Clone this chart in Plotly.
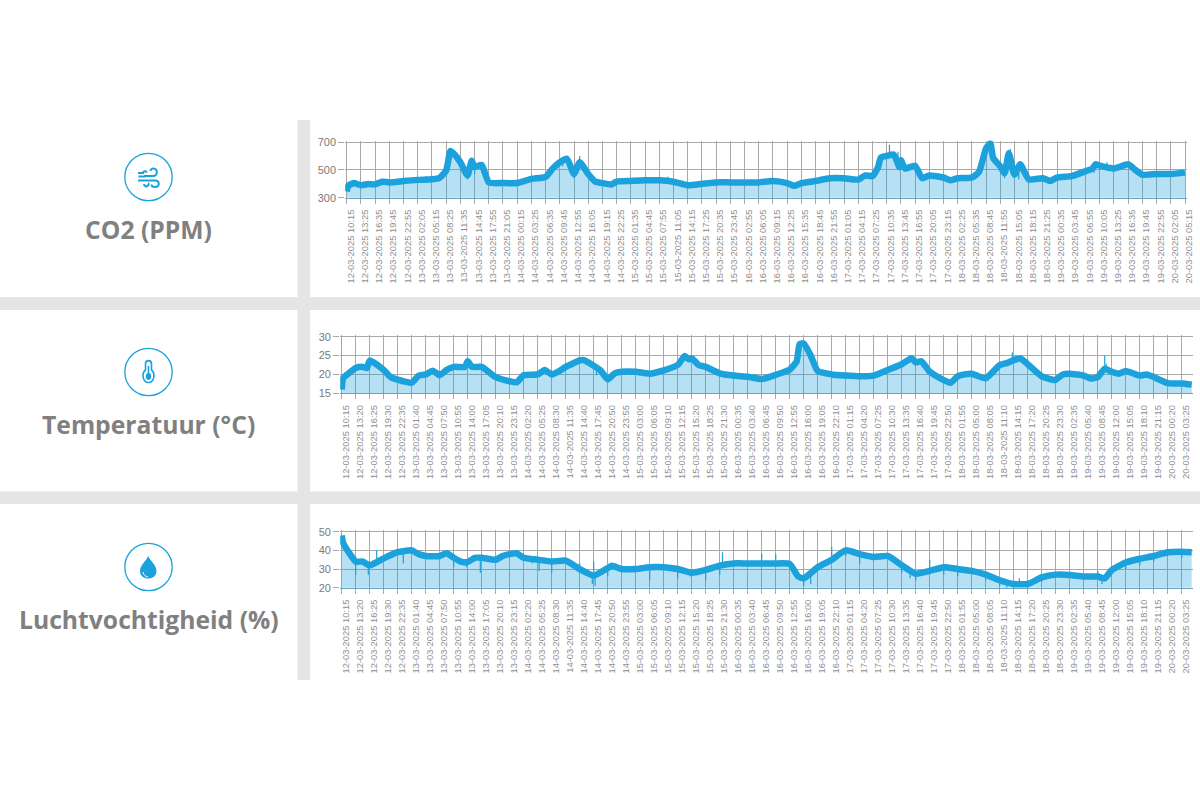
import re
import plotly.graph_objects as go

# ---------- tick labels ----------
co2_ticks = ["12-03-2025 10:15","12-03-2025 13:25","12-03-2025 16:35","12-03-2025 19:45","12-03-2025 22:55",
"13-03-2025 02:05","13-03-2025 05:15","13-03-2025 08:25","13-03-2025 11:35","13-03-2025 14:45","13-03-2025 17:55","13-03-2025 21:05",
"14-03-2025 00:15","14-03-2025 03:25","14-03-2025 06:35","14-03-2025 09:45","14-03-2025 12:55","14-03-2025 16:05","14-03-2025 19:15","14-03-2025 22:25",
"15-03-2025 01:35","15-03-2025 04:45","15-03-2025 07:55","15-03-2025 11:05","15-03-2025 14:15","15-03-2025 17:25","15-03-2025 20:35","15-03-2025 23:45",
"16-03-2025 02:55","16-03-2025 06:05","16-03-2025 09:15","16-03-2025 12:25","16-03-2025 15:35","16-03-2025 18:45","16-03-2025 21:55",
"17-03-2025 01:05","17-03-2025 04:15","17-03-2025 07:25","17-03-2025 10:35","17-03-2025 13:45","17-03-2025 16:55","17-03-2025 20:05","17-03-2025 23:15",
"18-03-2025 02:25","18-03-2025 05:35","18-03-2025 08:45","18-03-2025 11:55","18-03-2025 15:05","18-03-2025 18:15","18-03-2025 21:25",
"19-03-2025 00:35","19-03-2025 03:45","19-03-2025 06:55","19-03-2025 10:05","19-03-2025 13:25","19-03-2025 16:35","19-03-2025 19:45","19-03-2025 22:55",
"20-03-2025 02:05","20-03-2025 05:15"]

climate_ticks = ["12-03-2025 10:15","12-03-2025 13:20","12-03-2025 16:25","12-03-2025 19:30","12-03-2025 22:35",
"13-03-2025 01:40","13-03-2025 04:45","13-03-2025 07:50","13-03-2025 10:55","13-03-2025 14:00","13-03-2025 17:05","13-03-2025 20:10","13-03-2025 23:15",
"14-03-2025 02:20","14-03-2025 05:25","14-03-2025 08:30","14-03-2025 11:35","14-03-2025 14:40","14-03-2025 17:45","14-03-2025 20:50","14-03-2025 23:55",
"15-03-2025 03:00","15-03-2025 06:05","15-03-2025 09:10","15-03-2025 12:15","15-03-2025 15:20","15-03-2025 18:25","15-03-2025 21:30",
"16-03-2025 00:35","16-03-2025 03:40","16-03-2025 06:45","16-03-2025 09:50","16-03-2025 12:55","16-03-2025 16:00","16-03-2025 19:05","16-03-2025 22:10",
"17-03-2025 01:15","17-03-2025 04:20","17-03-2025 07:25","17-03-2025 10:30","17-03-2025 13:35","17-03-2025 16:40","17-03-2025 19:45","17-03-2025 22:50",
"18-03-2025 01:55","18-03-2025 05:00","18-03-2025 08:05","18-03-2025 11:10","18-03-2025 14:15","18-03-2025 17:20","18-03-2025 20:25","18-03-2025 23:30",
"19-03-2025 02:35","19-03-2025 05:40","19-03-2025 08:45","19-03-2025 12:00","19-03-2025 15:05","19-03-2025 18:10","19-03-2025 21:15",
"20-03-2025 00:20","20-03-2025 03:25"]

# ---------- series: position in tick-interval units, value ----------
co2_pos = [0,0.1,0.5,1,1.5,2,2.5,3,4,5,6,6.5,7,7.3,7.5,8,8.5,8.8,9,9.5,10,11,12,13,14,14.5,15,15.5,16,16.4,17,17.5,18,18.6,19,20,21,22,23,24,25,26,27,28,
 29,30,31,31.5,32,33,34,35,36,36.5,37,37.4,37.6,38,38.5,38.9,39,39.3,40,40.5,41,42,42.5,43,44,44.5,45,45.3,45.5,46,46.3,46.6,47,47.4,48,49,49.5,50,51,52,52.5,52.7,53,54,55,55.5,56,57,58,59]
co2_val = [345,385,405,390,398,396,415,410,420,428,432,440,495,635,620,555,460,565,520,535,410,405,405,435,450,510,555,580,470,555,470,415,405,395,415,420,425,425,415,390,400,410,410,410,
 410,420,405,385,405,420,440,440,430,460,455,520,590,600,610,520,570,510,530,440,460,445,425,440,445,485,655,690,585,525,475,620,465,540,432,440,420,445,455,490,510,540,530,510,540,500,465,470,470,480]
co2_sp_pos = [2.5,5.6,8.5,9.0,15.2,16.0,16.4,22.6,38.2,38.8,39.1,40.6,45.2,46.3,46.7,47.3,52.6,53.5,56.5,57.2]
co2_sp_base = [410,430,460,520,555,470,555,425,600,540,570,440,680,475,620,480,510,525,465,470]
co2_sp_tip = [435,455,430,470,525,440,600,450,680,630,500,420,720,440,650,430,480,555,445,450]

temp_pos = [0,0.1,0.4,1,1.5,1.8,2,3,3.5,4,5,5.5,6,6.5,7,7.5,8,8.8,9,9.3,10,11,12,12.5,13,14,14.5,15,15.5,16,17,17.3,18,18.5,19,19.5,20,21,22,23,24,24.5,24.8,25,25.5,26,27,28,29,
 30,31,32,32.5,32.7,33,33.5,34,35,36,37,38,39,40,40.7,41,41.4,42,43,43.5,44,44.5,45,46,47,47.5,48,48.5,49,50,50.9,51,51.5,52,53,53.5,54,54.5,55,55.5,56,57,57.5,58,59,60,60.71]
temp_val = [16,19,20,21.7,22,21.7,23.7,21.2,19.3,18.6,17.8,19.7,20,21,19.8,21.2,22,22,23.5,22,22,19.3,18.2,17.9,19.8,20,21.2,20,20.8,22,23.7,23.8,22.3,21,18.7,20.3,20.7,20.7,20.2,21.1,22.5,24.9,24,24.3,22.5,22,20.3,19.7,19.4,
 18.8,19.9,21.3,23.5,28,28.2,25,20.9,20,19.7,19.5,19.7,21.2,22.7,24.3,23.2,23.5,20.7,18.5,17.8,19.5,20,20.2,19,22.5,23,23.8,24.2,22.7,19.5,18.5,18.6,20,20.2,19.7,18.9,19.3,21.5,20.7,20.2,20.9,19.7,20,19.3,17.7,17.6,17.3]
temp_sp_pos = [18.2,47.9,54.5,54.6]
temp_sp_base = [22.3,24,21.5,21]
temp_sp_tip = [19.8,25.8,25,22.8]

hum_pos = [0,0.1,0.5,1,1.5,2,3,4,5,5.5,6,7,7.5,8,8.5,9,9.5,10,11,11.5,12,12.5,13,14,15,16,17,18,19,19.3,20,21,22,23,24,25,26,27,28,29,
 30,31,32,32.6,33,34,35,36,37,38,39,40,41,42,43,44,45,46,47,48,49,50,51,52,53,54,54.5,55,56,57,58,59,60,60.71]
hum_val = [48,44,39,34,34,32,35.7,39,40,38,37,37,38.5,36,34,33.8,36,36,35,37,38,38.5,36,35,34,34.5,30,26.5,30.5,31.8,30,30,31,31,30,28,29.5,31.8,33,33,
 33,33,32.7,26,25,31,35,40,38,36.5,37,32,27.5,29,31,30,29,27,24,22,22,25.5,27,26.8,26,26,25,29.5,33.5,35.5,37,39,39.3,39]
hum_sp_pos = [1,1.9,2.5,4.4,8,8.9,9.9,13.6,14.1,15,17,17.9,18,18.1,19,22,24,24.9,26,27,27.2,
 30,31,33,33.5,35,36,37,40,40.6,41,42,43,44,45,46,47,47.5,48,48.4,49,50,54,54.3,56,57,58,60]
hum_sp_base = [34,32,33,39,36,34,36,36,35,34,30,26.5,26.5,26.5,30.5,31,30,28.5,29.5,31.8,32,
 33,33,25,26,35,40,38,32,29,27.5,29,31,30,29,27,24,23,22,22,22,25.5,26,25.5,33.5,35.5,37,39.3]
hum_sp_tip = [27,27,40,33,31,31,28,33,29,28,33,22,34,21,26,24,25,26,24,27,39,
 38,38,21,22,42,37,33,28,25,24,35,27,26,27,24,21,20,19,25,19,23,29,22,30,32,34,36]

# ---------- layout helpers (pixel -> paper) ----------
W, H = 1200, 800
BLUE = "#1ba1dc"
FILL = "rgba(27,161,220,0.32)"
GRID = "#a8a8a8"
TICK_TXT = "#8f8f8f"

def px_path(s):
    nums = iter(range(10**6))
    def rep(m):
        v = float(m.group(0))
        return f"{v/W:.5f}" if next(nums) % 2 == 0 else f"{1-v/H:.5f}"
    return re.sub(r"-?\d+\.?\d*", rep, s)

def rect(x0, y0, x1, y1):
    return dict(type="rect", xref="paper", yref="paper", x0=x0/W, x1=x1/W, y0=1-y0/H, y1=1-y1/H,
                fillcolor="#e5e5e5", line_width=0, layer="below")

def circle(cx, cy, r=23.7):
    return dict(type="circle", xref="paper", yref="paper", x0=(cx-r)/W, x1=(cx+r)/W, y0=1-(cy+r)/H, y1=1-(cy-r)/H,
                line=dict(color=BLUE, width=1.3), fillcolor="rgba(0,0,0,0)")

def path(s, filled=False, width=2.0, fc=BLUE):
    return dict(type="path", xref="paper", yref="paper", path=px_path(s),
                fillcolor=fc if filled else "rgba(0,0,0,0)",
                line=dict(color=BLUE, width=0 if filled else width))

shapes = [rect(297.5, 120, 310, 680), rect(0, 297, 1200, 310), rect(0, 491.5, 1200, 504),
          circle(148.5, 177), circle(148.5, 372), circle(148.5, 567)]

# wind icon
shapes += [
    path("M 144 176 L 153 176 C 158 176 158 168.5 153.5 168.5 C 151.5 168.5 150.5 170 150.5 171"),
    path("M 138.5 176.5 L 146 176.5"),
    path("M 138 180.5 L 155 180.5 C 160 180.5 160 187 155 187 C 152.5 187 151.5 185.5 151.5 184.5"),
    path("M 144 184 C 144 186.5 147 187 148 185.5 C 149 184.5 148.5 183.5 148 183.2"),
    path("M 138 173 L 143 173 C 143 171 146 170.5 147 172.5"),
]
# thermometer icon
shapes += [
    path("M 145.5 370 L 145.5 364 C 145.5 359.5 151.5 359.5 151.5 364 L 151.5 370 C 155.5 373 154.5 382.5 148.5 382.5 C 142.5 382.5 141.5 373 145.5 370 Z", width=1.6),
    path("M 147.7 366 L 149.3 366 L 149.3 373 C 152.5 374.5 151.5 380 148.5 380 C 145.5 380 144.5 374.5 147.7 373 Z", filled=True),
]
# drop icon
shapes += [
    path("M 148.3 556 C 150 560.5 156.5 565 156.5 571 C 156.5 581 140 581 140 571 C 140 565 146.5 560.5 148.3 556 Z", filled=True),
    path("M 143 572 C 143.5 575 145.5 576.5 148 577", width=1),
]
shapes[-1]["line"]["color"] = "#ffffff"

# ---------- figure ----------
charts = [
    dict(n="", pos=co2_pos, val=co2_val, sp=(co2_sp_pos, co2_sp_base, co2_sp_tip), ticks=co2_ticks,
         xr=[0, 59], px=(346.7, 1185), py=(142, 197.7), yr=[300, 700], yt=[300, 500, 700]),
    dict(n="2", pos=temp_pos, val=temp_val, sp=(temp_sp_pos, temp_sp_base, temp_sp_tip), ticks=climate_ticks,
         xr=[0, 60.71], px=(341.7, 1191.7), py=(336.7, 393.3), yr=[15, 30], yt=[15, 20, 25, 30]),
    dict(n="3", pos=hum_pos, val=hum_val, sp=(hum_sp_pos, hum_sp_base, hum_sp_tip), ticks=climate_ticks,
         xr=[0, 60.71], px=(341.7, 1191.7), py=(531.7, 587.7), yr=[20, 50], yt=[20, 30, 40, 50]),
]

PAD = 1.5  # extra pixels so that gridlines at the range ends stay drawn

fig = go.Figure()
layout_axes = {}
for c in charts:
    xa, ya = "x" + c["n"], "y" + c["n"]
    smooth = dict(shape="spline", smoothing=0.5)
    fig.add_trace(go.Scatter(x=c["pos"], y=c["val"], xaxis=xa, yaxis=ya, mode="lines", fill="tozeroy",
                             fillcolor=FILL, line=dict(width=0, color=BLUE, **smooth), hoverinfo="skip"))
    sx, sy = [], []
    for p, b, t in zip(*c["sp"]):
        sx += [p, p, None]
        sy += [b, t, None]
    fig.add_trace(go.Scatter(x=sx, y=sy, xaxis=xa, yaxis=ya, mode="lines", cliponaxis=False,
                             line=dict(width=1.2, color=BLUE), hoverinfo="skip"))
    fig.add_trace(go.Scatter(x=c["pos"], y=c["val"], xaxis=xa, yaxis=ya, mode="lines", cliponaxis=False,
                             line=dict(width=6.5, color=BLUE, **smooth)))
    sx_scale = (c["xr"][1]-c["xr"][0])/(c["px"][1]-c["px"][0])
    sy_scale = (c["yr"][1]-c["yr"][0])/(c["py"][1]-c["py"][0])
    layout_axes["xaxis" + c["n"]] = dict(
        domain=[(c["px"][0]-PAD)/W, (c["px"][1]+PAD)/W],
        range=[c["xr"][0]-PAD*sx_scale, c["xr"][1]+PAD*sx_scale], anchor=ya, automargin=False,
        tickmode="array", tickvals=list(range(len(c["ticks"]))), ticktext=c["ticks"], tickangle=-90,
        showgrid=True, gridcolor=GRID, gridwidth=1, zeroline=False,
        ticks="outside", ticklen=5, tickcolor=GRID, tickwidth=1,
        showline=True, linecolor="#6aa3b8", linewidth=1,
        tickfont=dict(family="Liberation Sans", size=9.4, color=TICK_TXT), ticklabelstandoff=2, ticklabelshift=4)
    layout_axes["yaxis" + c["n"]] = dict(
        domain=[1-c["py"][1]/H, 1-(c["py"][0]-PAD)/H],
        range=[c["yr"][0], c["yr"][1]+PAD*sy_scale], anchor=xa, automargin=False,
        tickmode="array", tickvals=c["yt"], showgrid=True, gridcolor=GRID, gridwidth=1, zeroline=False,
        ticks="outside", ticklen=6, tickcolor=GRID, tickwidth=1,
        tickfont=dict(family="Liberation Sans", size=11, color="#7a7a7a"))

labels = [("CO2 (PPM)", 229), ("Temperatuur (°C)", 424), ("Luchtvochtigheid (%)", 619)]
annotations = [dict(text=t, x=148.5/W, y=1-y/H, xref="paper", yref="paper", showarrow=False, xanchor="center", yanchor="middle",
                    font=dict(family="Open Sans", size=24.7, color="#808080", weight="bold")) for t, y in labels]

fig.update_layout(width=W, height=H, margin=dict(l=0, r=0, t=0, b=0), paper_bgcolor="white", plot_bgcolor="white",
                  showlegend=False, shapes=shapes, annotations=annotations, **layout_axes)

fig.write_html("out.html", config={"displayModeBar": False},
               post_script="document.body.style.margin='0';document.body.style.overflow='hidden';")
